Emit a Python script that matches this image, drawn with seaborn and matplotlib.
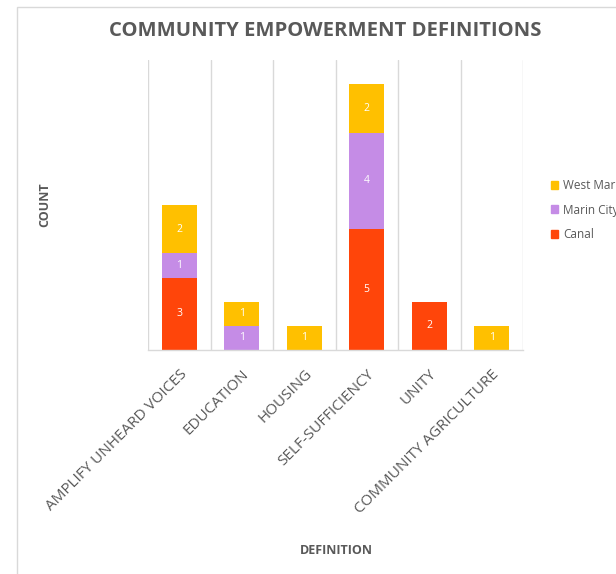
import matplotlib
matplotlib.use("Agg")
import matplotlib.pyplot as plt
from matplotlib.patches import Rectangle
import pandas as pd
import seaborn as sns

# Counts of each definition, by community
definitions = ["AMPLIFY UNHEARD VOICES", "EDUCATION", "HOUSING",
               "SELF-SUFFICIENCY", "UNITY", "COMMUNITY AGRICULTURE"]
canal = [3, 0, 0, 5, 2, 0]
marin_city = [1, 1, 0, 4, 0, 0]
west_marin = [2, 1, 1, 2, 0, 1]

regions = ["West Marin", "Marin City", "Canal"]
colors = {"West Marin": "#FFC000", "Marin City": "#C58CE6", "Canal": "#FF450A"}

rows = []
for name, vals in (("Canal", canal), ("Marin City", marin_city), ("West Marin", west_marin)):
    for d, v in zip(definitions, vals):
        rows.append({"definition": d, "region": name, "count": v})
df = pd.DataFrame(rows)
df["pos"] = df["definition"].map({d: i for i, d in enumerate(definitions)})

sns.set_style("white")
plt.rcParams["font.family"] = ["Open Sans", "DejaVu Sans"]

W, H = 616, 574
fig = plt.figure(figsize=(W / 100, H / 100), dpi=100)
ax = fig.add_axes([148 / W, (H - 350) / H, (523 - 148) / W, (350 - 60) / H])

# Stacked bars: the last hue level sits at the bottom of each stack
sns.histplot(data=df, x="pos", hue="region", weights="count", hue_order=regions,
             multiple="stack", discrete=True, shrink=0.56, palette=colors,
             alpha=1, linewidth=0, ax=ax, legend=False)

for p in ax.patches:
    h = p.get_height()
    if h > 0:
        ax.text(p.get_x() + p.get_width() / 2, p.get_y() + h / 2, f"{int(round(h))}",
                ha="center", va="center", color="white", fontsize=7.5)

ax.set_xlim(-0.5, len(definitions) - 0.5)
ax.set_ylim(0, 12)
ax.set_yticks([])
ax.set_xticks(range(len(definitions)))
ax.set_xticklabels(definitions, rotation=45, ha="right", rotation_mode="anchor",
                   color="#595959", fontsize=11)
ax.tick_params(axis="x", length=0, pad=12)
ax.set_xlabel("")
ax.set_ylabel("")

for b in range(len(definitions) + 1):
    ax.axvline(b - 0.5, color="#D9D9D9", lw=1, zorder=0)
for s in ("top", "right", "left"):
    ax.spines[s].set_visible(False)
ax.spines["bottom"].set_color("#D9D9D9")
ax.spines["bottom"].set_linewidth(1)

fig.text(325 / W, 1 - 31 / H, "COMMUNITY EMPOWERMENT DEFINITIONS", ha="center", va="center",
         fontsize=14.6, fontweight="bold", color="#595959")
fig.text(45 / W, 1 - 205 / H, "COUNT", rotation=90, ha="center", va="center",
         fontsize=9, fontweight="bold", color="#595959")
fig.text(336 / W, 1 - 551 / H, "DEFINITION", ha="center", va="center",
         fontsize=9, fontweight="bold", color="#595959")

handles = [Rectangle((0, 0), 1, 1, color=colors[r]) for r in regions]
fig.legend(handles, regions, loc="upper left", bbox_to_anchor=(546 / W, 1 - 174 / H),
           frameon=False, fontsize=8.5, handlelength=0.65, handleheight=0.65,
           handletextpad=0.4, labelspacing=1.0, labelcolor="#595959", borderaxespad=0)

fig.add_artist(Rectangle((16.5 / W, -0.1), 1.0, (H - 7.5) / H + 0.1, transform=fig.transFigure,
                         fill=False, ec="#D9D9D9", lw=1))

fig.savefig("out.png", dpi=100)
